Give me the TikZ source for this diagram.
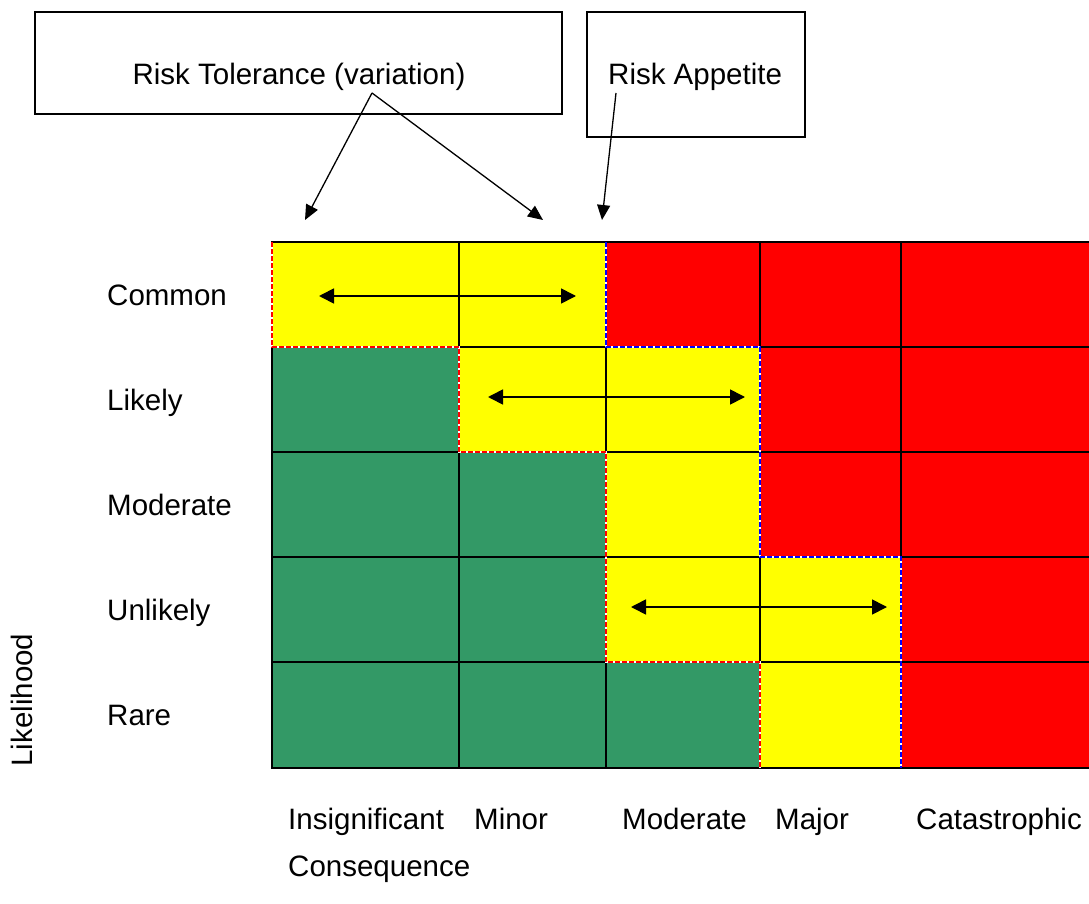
\documentclass[tikz,border=0pt]{standalone}
\usepackage{fontspec}
\setmainfont{Liberation Sans}
\usetikzlibrary{arrows.meta}
\definecolor{cG}{RGB}{51,153,102}
\definecolor{cY}{RGB}{255,255,0}
\definecolor{cR}{RGB}{255,0,0}
\begin{document}
\begin{tikzpicture}[x=1pt,y=-1pt,
  txt/.style={font=\fontsize{29.5}{35}\selectfont, inner sep=0pt},
  lbl/.style={txt, anchor=base west},
  box/.style={draw=black, line width=1.3pt, inner sep=0pt},
  grid/.style={draw=black, line width=1.7pt},
  tolline/.style={draw=cR, line width=2.4pt, dash pattern=on 5pt off 2pt},
  appline/.style={draw=blue, line width=2.4pt, dash pattern=on 5pt off 2pt},
  under/.style={draw=white, line width=2.4pt},
  ptr/.style={draw=black, line width=1.3pt, -{Triangle[length=15pt,width=13pt]}},
  span/.style={draw=black, line width=1.7pt, {Triangle[length=15pt,width=15pt]}-{Triangle[length=15pt,width=15pt]}}
]
\useasboundingbox (0,0) rectangle (1089,904);
\clip (0,0) rectangle (1089,904);
\fill[white] (0,0) rectangle (1089,904);

\def\XL{{272,459,606,760,901,1120}}
\def\YL{{242,347,452,557,662,768}}
\foreach \row [count=\i from 0] in {{cY,cY,cR,cR,cR},{cG,cY,cY,cR,cR},{cG,cG,cY,cR,cR},{cG,cG,cY,cY,cR},{cG,cG,cG,cY,cR}}{
  \foreach \c [count=\j from 0] in \row {
    \pgfmathsetmacro\xa{\XL[\j]}
    \pgfmathsetmacro\xb{\XL[\j+1]}
    \pgfmathsetmacro\ya{\YL[\i]}
    \pgfmathsetmacro\yb{\YL[\i+1]}
    \fill[\c] (\xa,\ya) rectangle (\xb,\yb);
  }
}
% grid
\foreach \y in {242,347,452,557,662,768} \draw[grid] (271.2,\y) -- (1120,\y);
\foreach \x in {272,459,606,760,901} \draw[grid] (\x,241.2) -- (\x,768.8);

% tolerance boundary (red) and appetite boundary (blue)
\draw[under] (272,242) -- (272,347) -- (459,347) -- (459,452) -- (606,452) -- (606,662) -- (760,662) -- (760,768);
\draw[tolline] (272,242) -- (272,347) -- (459,347) -- (459,452) -- (606,452) -- (606,662) -- (760,662) -- (760,768);
\draw[under] (606,242) -- (606,347) -- (760,347) -- (760,557) -- (901,557) -- (901,768);
\draw[appline] (606,242) -- (606,347) -- (760,347) -- (760,557) -- (901,557) -- (901,768);

% variation arrows
\coordinate (a1l) at (319,296); \coordinate (a1r) at (576,296);
\coordinate (a2l) at (488,397); \coordinate (a2r) at (745,397);
\coordinate (a4l) at (631,607); \coordinate (a4r) at (887,607);
\draw[span] (a1l) -- (a1r);
\draw[span] (a2l) -- (a2r);
\draw[span] (a4l) -- (a4r);

% row labels
\node[lbl] (common) at (107,305) {Common};
\node[lbl] (likely) at (107,410) {Likely};
\node[lbl] (moderate) at (107,515) {Moderate};
\node[lbl] (unlikely) at (107,620) {Unlikely};
\node[lbl] (rare) at (107,725.5) {Rare};
\node[txt, rotate=90] (likelihood) at (22,700) {Likelihood};

% column labels
\node[lbl] (insig) at (288,829) {Insignificant};
\node[lbl] (minor) at (474,829) {Minor};
\node[lbl] (cmod) at (622,829) {Moderate};
\node[lbl] (major) at (775,829) {Major};
\node[lbl] (cata) at (916,829) {Catastrophic};
\node[lbl] (conseq) at (288,876) {Consequence};

% boxes
\node[box, minimum width=527pt, minimum height=102pt] (tolbox) at (298.5,63) {};
\node[txt, anchor=base] (tol) at (299,84.5) {Risk Tolerance (variation)};
\node[box, minimum width=218pt, minimum height=125pt] (appbox) at (696,74.5) {};
\node[lbl] (app) at (608,84.5) {Risk Appetite};

% pointers
\coordinate (tolsrc) at (372,93);
\coordinate (toltipA) at (305,220);
\coordinate (toltipB) at (543,220);
\coordinate (appsrc) at (616,93);
\coordinate (apptip) at (602,220);
\draw[ptr] (tolsrc) -- (toltipA);
\draw[ptr] (tolsrc) -- (toltipB);
\draw[ptr] (appsrc) -- (apptip);
\end{tikzpicture}
\end{document}
